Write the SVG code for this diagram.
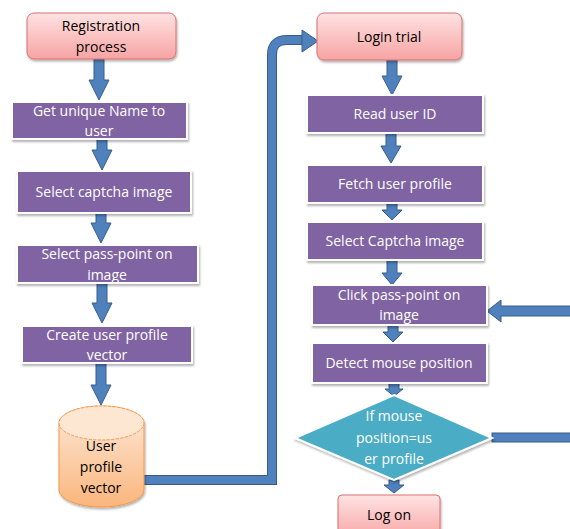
<svg xmlns="http://www.w3.org/2000/svg" width="570" height="529" viewBox="0 0 570 529">
<defs>
<linearGradient id="pink" x1="0" y1="0" x2="0" y2="1">
<stop offset="0" stop-color="#FFE3E3"/>
<stop offset="1" stop-color="#F7A3A3"/>
</linearGradient>
<linearGradient id="orange" x1="0" y1="0" x2="0" y2="1">
<stop offset="0" stop-color="#FDE9D9"/>
<stop offset="1" stop-color="#FAB67C"/>
</linearGradient>
<filter id="sh" x="-10%" y="-20%" width="130%" height="150%">
<feDropShadow dx="1" dy="2" stdDeviation="1.2" flood-color="#000" flood-opacity="0.3"/>
</filter>
</defs>
<style>
.start{fill:url(#pink);stroke:#D9706E;stroke-width:1;filter:url(#sh)}
.proc{fill:#8064A2;stroke:#FFFFFF;stroke-width:2;filter:url(#sh)}
.dec{fill:#4BACC6;stroke:#FFFFFF;stroke-width:2;filter:url(#sh)}
.arr{fill:#4F81BD;stroke:#385D8A;stroke-width:1}
.wt{font-family:"Open Sans","Liberation Sans",sans-serif;font-size:14px;fill:#FFFFFF;text-anchor:middle}
.bt{font-family:"Open Sans","Liberation Sans",sans-serif;font-size:14px;fill:#000000;text-anchor:middle}
</style>
<rect width="570" height="529" fill="#FFFFFF"/>

<g id="connectors">
<path class="arr" d="M94,59 H104 V80 H109 L99,100 L89,80 H94 Z"/>
<path class="arr" d="M97,139 H107 V150 H112 L102,170 L92,150 H97 Z"/>
<path class="arr" d="M96,213 H106 V223 H111 L101,243 L91,223 H96 Z"/>
<path class="arr" d="M97,283 H107 V303 H112 L102,323 L92,303 H97 Z"/>
<path class="arr" d="M96,363 H106 V385 H111 L101,405 L91,385 H96 Z"/>
<path d="M139,480 H272 V55 Q272,40 287,40 H303" fill="none" stroke="#385D8A" stroke-width="10"/>
<path d="M139,480 H272 V55 Q272,40 287,40 H303" fill="none" stroke="#4F81BD" stroke-width="8"/>
<path class="arr" d="M302,30 L318,41 L302,52 Z"/>
<path class="arr" d="M387,60 H397 V76 H402 L392,95 L382,76 H387 Z"/>
<path class="arr" d="M386,133 H396 V146 H401 L391,163 L381,146 H386 Z"/>
<path class="arr" d="M387,203 H397 V210 H402 L392,220 L382,210 H387 Z"/>
<path class="arr" d="M387,260 H397 V273 H402 L392,285 L382,273 H387 Z"/>
<path class="arr" d="M388,325 H398 V332 H403 L393,342 L383,332 H388 Z"/>
<path class="arr" d="M389,383 H399 V389 H403 L394,396 L385,389 H389 Z"/>
<path class="arr" d="M389,480 H399 V485 H404 L394,493 L384,485 H389 Z"/>
<path class="arr" d="M571,306 H501 V300 L487,311 L501,322 V316 H571 Z"/>
<rect class="arr" x="492" y="433" width="80" height="9"/>
</g>

<g id="registration">
<rect class="start" x="27" y="13" width="149" height="46" rx="7"/>
<text class="bt" x="101" y="31">Registration</text>
<text class="bt" x="101" y="52">process</text>
</g>
<g id="get-name">
<rect class="proc" x="12" y="102" width="175" height="37"/>
<text class="wt" x="99" y="116">Get unique Name to</text>
<text class="wt" x="99" y="136">user</text>
</g>
<g id="select-captcha">
<rect class="proc" x="17" y="171" width="174" height="42"/>
<text class="wt" x="104" y="197">Select captcha image</text>
</g>
<g id="select-passpoint">
<rect class="proc" x="17" y="245" width="181" height="38"/>
<text class="wt" x="107" y="259">Select pass-point on</text>
<text class="wt" x="107" y="280">image</text>
</g>
<g id="create-profile">
<rect class="proc" x="22" y="326" width="170" height="37"/>
<text class="wt" x="107" y="340">Create user profile</text>
<text class="wt" x="107" y="360">vector</text>
</g>
<g id="user-profile-db">
<path d="M59,423 V490 A42.5,17 0 0 0 144,490 V423 A42.5,17 0 0 0 59,423 Z" fill="url(#orange)" stroke="#F79646" stroke-width="1" filter="url(#sh)"/>
<ellipse cx="101.5" cy="423" rx="42.5" ry="17" fill="#FDE6D2" stroke="#F79646" stroke-width="1" stroke-dasharray="3,1.5"/>
<text class="bt" x="101" y="451">User</text>
<text class="bt" x="101" y="472">profile</text>
<text class="bt" x="101" y="493">vector</text>
</g>

<g id="login-trial">
<rect class="start" x="317" y="13" width="145" height="47" rx="7"/>
<text class="bt" x="389" y="42">Login trial</text>
</g>
<g id="read-id">
<rect class="proc" x="307" y="95" width="176" height="38"/>
<text class="wt" x="395" y="119">Read user ID</text>
</g>
<g id="fetch-profile">
<rect class="proc" x="307" y="165" width="176" height="38"/>
<text class="wt" x="395" y="189">Fetch user profile</text>
</g>
<g id="select-captcha-2">
<rect class="proc" x="307" y="222" width="176" height="38"/>
<text class="wt" x="395" y="246">Select Captcha image</text>
</g>
<g id="click-passpoint">
<rect class="proc" x="312" y="285" width="175" height="40"/>
<text class="wt" x="399" y="300">Click pass-point on</text>
<text class="wt" x="399" y="320">image</text>
</g>
<g id="detect-mouse">
<rect class="proc" x="312" y="343" width="175" height="40"/>
<text class="wt" x="399" y="368">Detect mouse position</text>
</g>
<g id="decision">
<polygon class="dec" points="394,395 492,438 394,480 295,438"/>
<text class="wt" x="394" y="421">If mouse</text>
<text class="wt" x="394" y="443">position=us</text>
<text class="wt" x="394" y="464">er profile</text>
</g>
<g id="log-on">
<rect class="start" x="338" y="495" width="102" height="45" rx="4"/>
<text class="bt" x="389" y="520">Log on</text>
</g>
</svg>
